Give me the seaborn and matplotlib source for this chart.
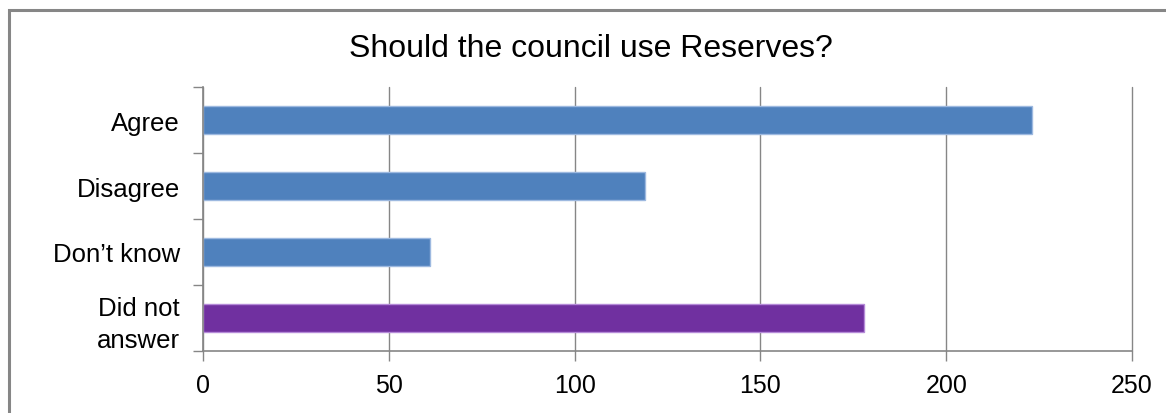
import matplotlib
matplotlib.use("Agg")
import matplotlib.pyplot as plt
import matplotlib.patches as mpatches
from matplotlib.ticker import FixedLocator
import seaborn as sns
import pandas as pd

categories = ["Agree", "Disagree", "Don\u2019t know", "Did not\nanswer"]
values = [223, 119, 61, 178]
colors = ["#4F81BD", "#4F81BD", "#4F81BD", "#7030A0"]
edge_colors = ["#9DB9E0", "#9DB9E0", "#9DB9E0", "#B58AD8"]
x_ticks = [0, 50, 100, 150, 200, 250]
title = "Should the council use Reserves?"

sns.set_theme(style="white")
plt.rcParams["font.family"] = ["Liberation Sans", "DejaVu Sans"]

df = pd.DataFrame({"category": categories, "value": values})

fig = plt.figure(figsize=(11.66, 4.14), dpi=100)
ax = fig.add_axes([203/1166, 1-352/414, (1132-203)/1166, (352-88)/414])

sns.barplot(data=df, x="value", y="category", hue="category",
            palette=colors, orient="h", width=0.42, legend=False, ax=ax,
            saturation=1)
for p, ec in zip(ax.patches, edge_colors):
    p.set_edgecolor(ec)
    p.set_linewidth(1.0)

gray = "#868686"
ax.set_xlim(0, 250)
ax.set_ylim(3.5, -0.5)
ax.xaxis.set_major_locator(FixedLocator(x_ticks))
ax.set_xticklabels([str(t) for t in x_ticks])
ax.grid(axis="x", color=gray, linewidth=1.0)
ax.set_axisbelow(True)
ax.set_xlabel("")
ax.set_ylabel("")

for s in ["top", "right"]:
    ax.spines[s].set_visible(False)
for s in ["left", "bottom"]:
    ax.spines[s].set_visible(True)
    ax.spines[s].set_color(gray)
    ax.spines[s].set_linewidth(1.2)

ax.tick_params(axis="x", which="major", direction="out", length=7, width=1,
               color=gray, labelsize=18, labelcolor="black", pad=9, bottom=True)
ax.tick_params(axis="y", which="major", length=0, labelsize=18.5,
               labelcolor="black", pad=16.5, left=True)
ax.yaxis.set_minor_locator(FixedLocator([-0.5, 0.5, 1.5, 2.5, 3.5]))
ax.tick_params(axis="y", which="minor", direction="out", length=7, width=1,
               color=gray, left=True)
for lbl in ax.get_yticklabels():
    lbl.set_multialignment("center")
    lbl.set_linespacing(1.38)
for gl in ax.get_xgridlines():
    gl.set_clip_on(False)

fig.text(591/1166, 1-49/414, title, ha="center", va="center",
         fontsize=23, color="black")

border = mpatches.Rectangle((9/1166, -0.1), 1.2, 1 - 11/414 + 0.1,
                            transform=fig.transFigure, fill=False,
                            edgecolor=gray, linewidth=2.2, clip_on=False)
fig.patches.append(border)

fig.savefig("out.png", dpi=100, facecolor="white")
